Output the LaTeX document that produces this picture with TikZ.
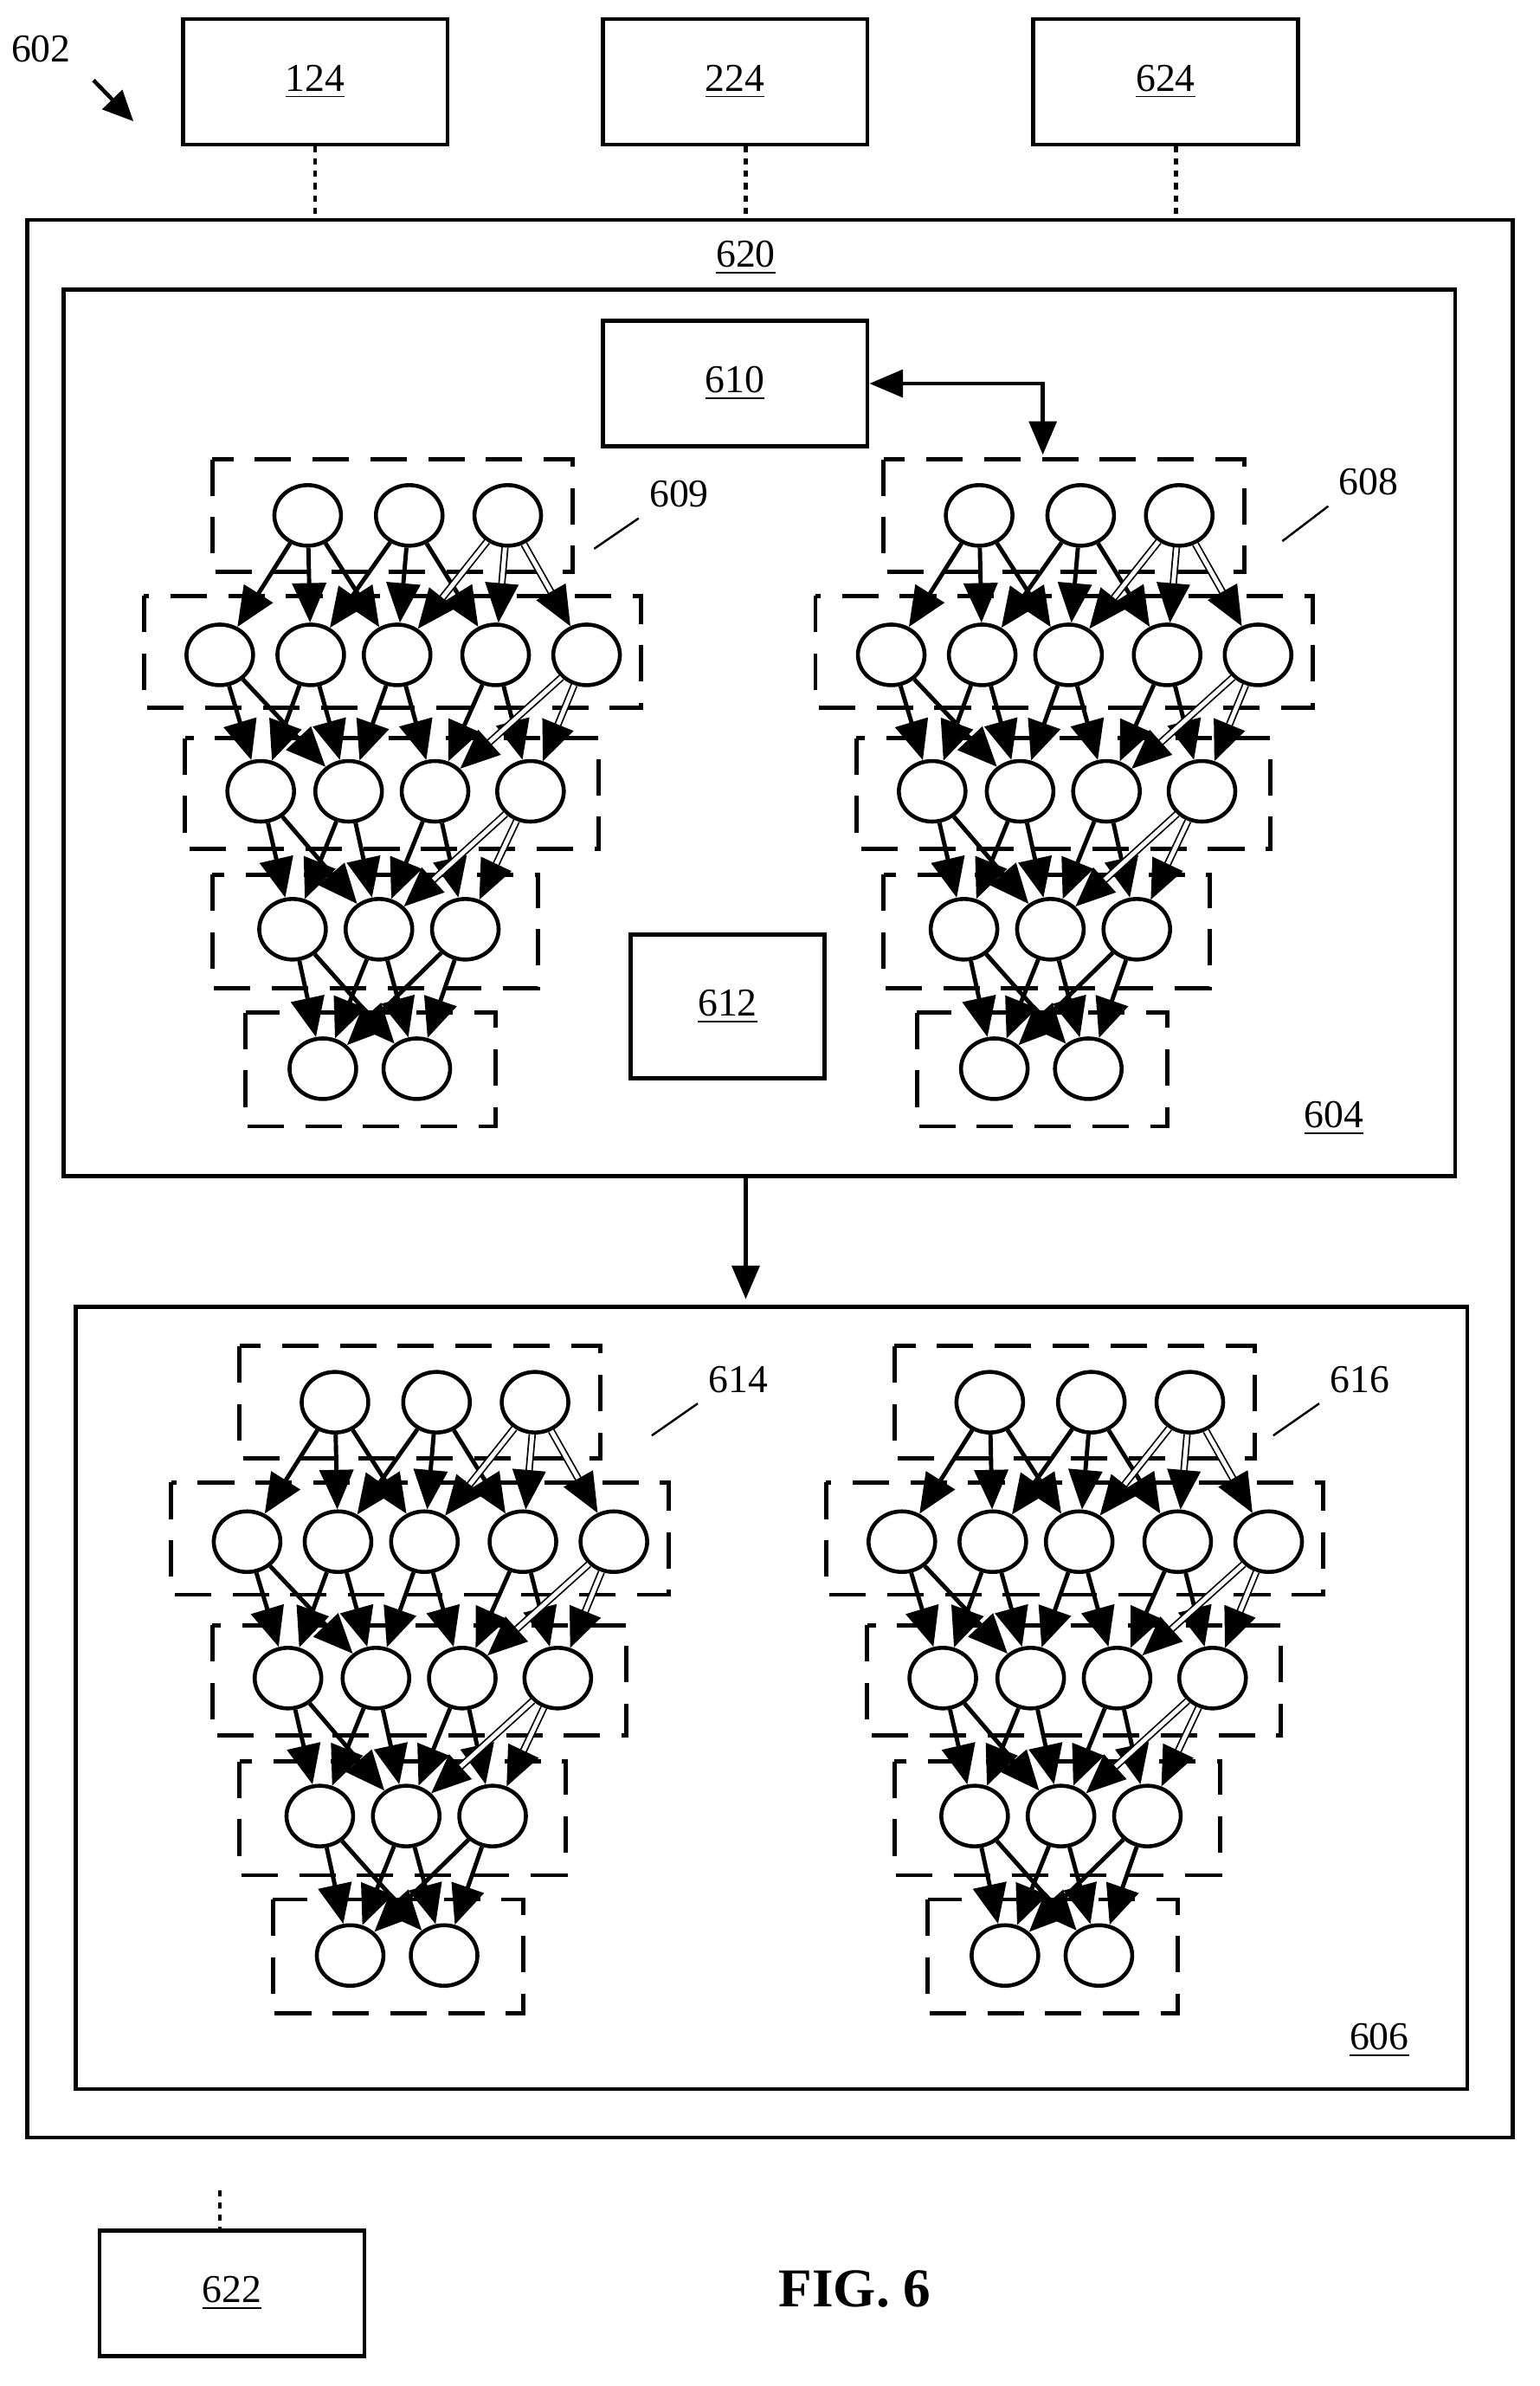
\documentclass[tikz,border=0pt]{standalone}
\usepackage{amsmath}
\usepackage{fontspec}
\setmainfont{Liberation Serif}
\usetikzlibrary{arrows.meta,shapes.geometric,positioning}

\tikzset{
  box/.style={draw,line width=1.3pt,inner sep=0pt},
  layer/.style={draw,line width=1.4pt,dash pattern=on 12pt off 7pt},
  neuron/.style={ellipse,draw,line width=1.3pt,minimum width=0.77cm,minimum height=0.70cm,inner sep=0pt,fill=white},
  link/.style={line width=1.4pt,-{Triangle[length=13pt,width=11pt]}},
  dlink/.style={line width=0.5pt,double=white,double distance=1.4pt,-{Triangle[length=13pt,width=11pt]}},
  lbl/.style={font=\fontsize{13}{15}\selectfont},
  dotline/.style={line width=1.3pt,dash pattern=on 2pt off 2pt}
}

% one network: name, shift x, shift y (displayed units)
\newcommand{\drawnet}[3]{%
  \begin{scope}[shift={(#2,#3)}]
    \draw[layer] (140,303) rectangle (378,377);
    \draw[layer] (95,393) rectangle (423,467);
    \draw[layer] (122,487) rectangle (395,560);
    \draw[layer] (140,577) rectangle (355,652);
    \draw[layer] (162,668) rectangle (327,743);
    \foreach \i/\x in {1/203,2/270,3/335} \node[neuron] (#1-a\i) at (\x,340) {};
    \foreach \i/\x in {1/145,2/205,3/262,4/327,5/387} \node[neuron] (#1-b\i) at (\x,432) {};
    \foreach \i/\x in {1/172,2/230,3/287,4/350} \node[neuron] (#1-c\i) at (\x,522) {};
    \foreach \i/\x in {1/193,2/250,3/307} \node[neuron] (#1-d\i) at (\x,613) {};
    \foreach \i/\x in {1/213,2/275} \node[neuron] (#1-e\i) at (\x,705) {};
    \foreach \i/\j/\s in {1/1/link,1/2/link,1/3/link,2/2/link,2/3/link,2/4/link,3/3/dlink,3/4/dlink,3/5/dlink}
      \draw[\s] (#1-a\i) -- (#1-b\j);
    \foreach \i/\j/\s in {1/1/link,1/2/link,2/1/link,2/2/link,3/2/link,3/3/link,4/3/link,4/4/link,5/3/dlink,5/4/dlink}
      \draw[\s] (#1-b\i) -- (#1-c\j);
    \foreach \i/\j/\s in {1/1/link,1/2/link,2/1/link,2/2/link,3/2/link,3/3/link,4/2/dlink,4/3/dlink}
      \draw[\s] (#1-c\i) -- (#1-d\j);
    \foreach \i/\j in {1/1,1/2,2/1,2/2,3/1,3/2}
      \draw[link] (#1-d\i) -- (#1-e\j);
  \end{scope}}

\begin{document}
\begin{tikzpicture}[x=0.01751cm,y=-0.01751cm]
  \useasboundingbox (0,0) rectangle (1016,1574);

  % outside boxes
  \node[box,minimum width=3.06cm,minimum height=1.45cm,lbl] (b124) at (208,54) {\underline{124}};
  \node[box,minimum width=3.06cm,minimum height=1.45cm,lbl] (b224) at (485,54) {\underline{224}};
  \node[box,minimum width=3.06cm,minimum height=1.45cm,lbl] (b624) at (769,54) {\underline{624}};
  \node[box,minimum width=3.06cm,minimum height=1.45cm,lbl] (b622) at (153,1513) {\underline{622}};
  \node[lbl] (l602) at (27,32) {602};
  \coordinate (p602) at (88,80);
  \draw[line width=1.3pt,-{Triangle[length=10pt,width=9pt]}] (l602.south east) ++(8,5) -- (p602);

  % system box
  \draw[box] (18,145) coordinate (s620) rectangle (998,1410);
  \node[lbl] (l620) at (492,170) {\underline{620}};
  \draw[dotline] (b124.south -| 208,0) -- (208,145);
  \draw[dotline] (b224.south -| 492,0) -- (492,145);
  \draw[dotline] (b624.south -| 776,0) -- (776,145);
  \coordinate (d622) at (145,1445);
  \draw[dotline] (d622) -- (b622.north -| d622);

  % training section
  \draw[box] (42,191) rectangle (960,776);
  \node[lbl] (l604) at (880,738) {\underline{604}};
  \node[box,minimum width=3.06cm,minimum height=1.45cm,lbl] (b610) at (485,253) {\underline{610}};
  \node[box,minimum width=2.24cm,minimum height=1.66cm,lbl] (b612) at (480,664) {\underline{612}};
  \drawnet{n609}{0}{0}
  \drawnet{n608}{443}{0}
  \coordinate (t608) at (688,300);
  \draw[line width=1.3pt,{Triangle[length=11pt,width=9pt]}-{Triangle[length=11pt,width=9pt]}] (b610.east) -- (b610.east -| t608) -- (t608);
  \node[lbl] (l609) at (448,326) {609};
  \draw[line width=0.7pt] (392,362) -- (l609.south west);
  \node[lbl] (l608) at (903,318) {608};
  \draw[line width=0.7pt] (846,357) -- (l608.south west);

  % deployment section
  \coordinate (a604) at (492,776);
  \coordinate (a606) at (492,857);
  \draw[line width=1.3pt,-{Triangle[length=11pt,width=9pt]}] (a604) -- (a606);
  \draw[box] (50,862) rectangle (968,1378);
  \node[lbl] (l606) at (910,1346) {\underline{606}};
  \drawnet{n614}{18}{585}
  \drawnet{n616}{450}{585}
  \node[lbl] (l614) at (487,910) {614};
  \draw[line width=0.7pt] (430,947) -- (l614.south west);
  \node[lbl] (l616) at (897,910) {616};
  \draw[line width=0.7pt] (840,947) -- (l616.south west);

  \node[font=\fontsize{18}{21}\selectfont\bfseries] (fig) at (564,1510) {FIG. 6};
\end{tikzpicture}
\end{document}
